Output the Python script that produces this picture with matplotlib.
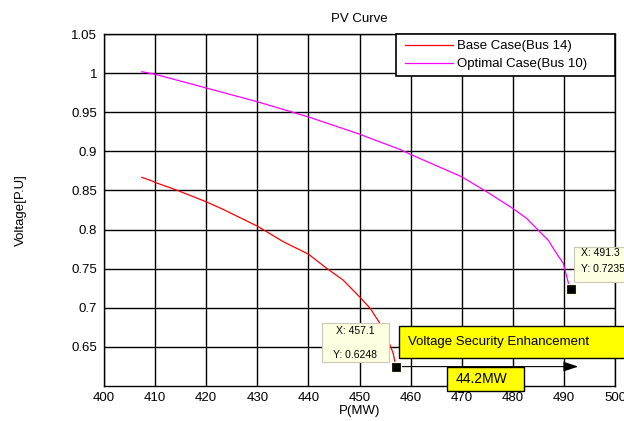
import matplotlib
matplotlib.use("Agg")
import matplotlib.pyplot as plt
from matplotlib.patches import Rectangle
from matplotlib.legend_handler import HandlerLine2D
from matplotlib.lines import Line2D

plt.rcParams['font.family'] = ['Liberation Sans', 'DejaVu Sans']

# Data
base_p = [407.4, 409.3, 410.0, 414.2, 420.0, 423.3, 430.0, 435.1, 440.0, 443.6,
          446.8, 450.0, 452.1, 454.0, 455.6, 456.6, 457.1]
base_v = [0.8667, 0.8624, 0.8603, 0.8505, 0.8355, 0.8258, 0.8044, 0.7844, 0.7686, 0.7503,
          0.7354, 0.7140, 0.6992, 0.6800, 0.6586, 0.6416, 0.6248]
opt_p = [407.4, 410.0, 420.0, 430.0, 440.0, 450.0, 454.0, 457.9, 460.0, 470.0,
         474.9, 480.0, 482.7, 485.3, 486.9, 488.6, 489.9, 490.9, 491.3]
opt_v = [1.0018, 0.9985, 0.9810, 0.9634, 0.9440, 0.9220, 0.9120, 0.9025, 0.8960, 0.8675,
         0.8483, 0.8270, 0.8143, 0.7970, 0.7866, 0.7690, 0.7567, 0.7310, 0.7235]
tip_p = [457.1, 491.3]
tip_v = [0.6248, 0.7235]
x_ticks = [400, 410, 420, 430, 440, 450, 460, 470, 480, 490, 500]
y_ticks = [0.65, 0.7, 0.75, 0.8, 0.85, 0.9, 0.95, 1, 1.05]
y_ticklabels = ['0.65', '0.7', '0.75', '0.8', '0.85', '0.9', '0.95', '1', '1.05']
gain_label = '44.2MW'

FS = 9.5

fig = plt.figure(figsize=(6.24, 4.21), dpi=100)
ax = fig.add_axes([104/624, 1-386/421, (615-104)/624, (386-34)/421])

ax.plot(base_p, base_v, color='red', lw=0.9, label='Base Case(Bus 14)', zorder=3)
ax.plot(opt_p, opt_v, color='magenta', lw=0.9, label='Optimal Case(Bus 10)', zorder=3)

ax.set_xlim(400, 500)
ax.set_ylim(0.6, 1.05)
ax.set_xticks(x_ticks)
ax.set_yticks(y_ticks)
ax.set_yticklabels(y_ticklabels)
ax.grid(True, color='black', lw=1.0)
ax.tick_params(length=0, labelsize=FS)
ax.tick_params(axis='x', pad=4)
ax.tick_params(axis='y', pad=5)
for s in ax.spines.values():
    s.set_color('black')
    s.set_linewidth(1.0)

ax.set_title('PV Curve', fontsize=FS, pad=9)
ax.set_xlabel('P(MW)', fontsize=FS, labelpad=1)
ax.set_ylabel('Voltage[P.U]', fontsize=FS)
ax.yaxis.set_label_coords(-0.151, 0.5)

leg = ax.legend(loc='upper right', bbox_to_anchor=(0.5714, 0.0, 0.4286, 1.0), mode='expand',
                borderaxespad=0, fancybox=False, framealpha=1,
                edgecolor='black', fontsize=FS, handlelength=3.87, handletextpad=0.3,
                borderpad=0.45, labelspacing=0.45,
                handler_map={Line2D: HandlerLine2D(xpad=0.23)})
leg.get_frame().set_linewidth(1.2)
leg.set_zorder(10)

# arrow
ax.annotate('', xy=(492.8, tip_v[0]), xytext=(tip_p[0], tip_v[0]),
            arrowprops=dict(arrowstyle='-|>,head_length=0.9,head_width=0.3', color='black',
                            lw=0.8, shrinkA=0, shrinkB=0), zorder=6)

# datatip markers
ax.plot(tip_p, tip_v, 's', color='black', ms=7.4, mec='#FFFFE1', mew=0.9, zorder=8,
        clip_on=False)

# datatip boxes
tip_face = '#FFFFE1'
tip_edge = '#C8C8B4'
ax.add_patch(Rectangle((442.6, 0.6305), 13.2, 0.0499, facecolor=tip_face, edgecolor=tip_edge,
                       lw=0.8, zorder=7, clip_on=False))
ax.text(449.2, 0.6705, 'X: %.1f' % tip_p[0], fontsize=7.5, ha='center', va='center', zorder=8)
ax.text(449.2, 0.6395, 'Y: %.4f' % tip_v[0], fontsize=7.5, ha='center', va='center', zorder=8)

ax.add_patch(Rectangle((492.0, 0.7328), 20, 0.0448, facecolor=tip_face, edgecolor=tip_edge,
                       lw=0.8, zorder=7, clip_on=False))
ax.text(493.3, 0.7697, 'X: %.1f' % tip_p[1], fontsize=7.5, ha='left', va='center', zorder=8,
        clip_on=False)
ax.text(493.3, 0.7497, 'Y: %.4f' % tip_v[1], fontsize=7.5, ha='left', va='center', zorder=8,
        clip_on=False)

# yellow annotation boxes
ax.add_patch(Rectangle((457.8, 0.6352), 60, 0.0414, facecolor='yellow', edgecolor='black',
                       lw=1.0, zorder=9, clip_on=False))
ax.text(459.4, 0.6565, 'Voltage Security Enhancement', fontsize=9.5, ha='left', va='center',
        zorder=10, clip_on=False)

ax.add_patch(Rectangle((467.05, 0.5938), 15.15, 0.0299, facecolor='yellow', edgecolor='black',
                       lw=1.0, zorder=9, clip_on=False))
ax.text(468.9, 0.6088, gain_label, fontsize=10, ha='left', va='center', zorder=10,
        clip_on=False)

fig.savefig('out.png', dpi=100)
